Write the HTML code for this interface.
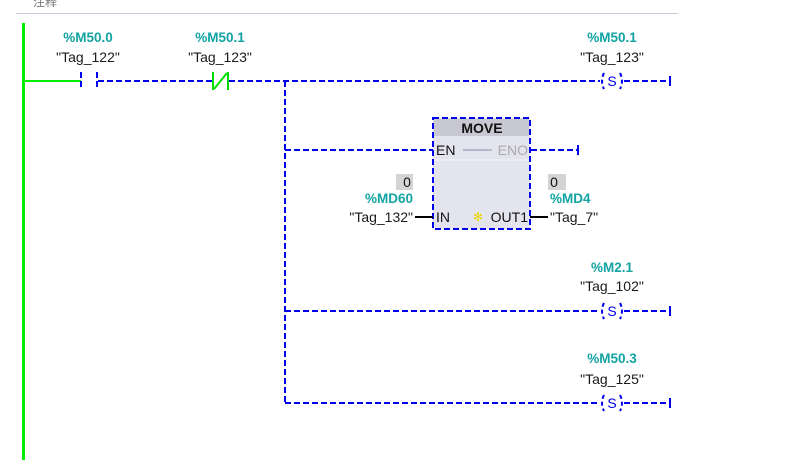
<!DOCTYPE html>
<html><head><meta charset="utf-8"><style>
html,body{margin:0;padding:0;background:#fff;width:798px;height:468px;overflow:hidden}
svg{display:block}
text{font-family:"Liberation Sans","Noto Sans CJK SC",sans-serif;font-size:14px}
.t{fill:#1a1a1a;text-anchor:middle}
.a{fill:#13a3a3;font-weight:bold;text-anchor:middle;font-size:13.5px}
.d{stroke:#0000ee;stroke-width:2;stroke-dasharray:6,3;fill:none}
.p{stroke:#0000ee;stroke-width:2;fill:none;stroke-dasharray:4,3}
</style></head><body>
<svg width="798" height="468" viewBox="0 0 798 468">
<text x="33" y="6" style="font-size:12px;fill:#777">注释</text>
<line x1="16" y1="13.5" x2="678" y2="13.5" stroke="#c8ccdc" stroke-width="1"/>
<rect x="22" y="23" width="3" height="437" fill="#00ee00"/>
<line x1="24" y1="81" x2="81" y2="81" stroke="#00ee00" stroke-width="2"/>
<line x1="81" y1="72" x2="81" y2="90" class="d" stroke-dasharray="5,3"/>
<line x1="97" y1="72" x2="97" y2="90" class="d" stroke-dasharray="5,3"/>
<line x1="98" y1="81" x2="212" y2="81" class="d"/>
<g stroke="#00dd00" stroke-width="2" fill="none">
<line x1="213" y1="72" x2="213" y2="90"/><line x1="228" y1="72" x2="228" y2="90"/>
<line x1="214" y1="89" x2="227" y2="73"/></g>
<line x1="229" y1="81" x2="600" y2="81" class="d"/>
<line x1="285" y1="81" x2="285" y2="403" class="d"/>
<text x="88" y="42" class="a">%M50.0</text><text x="88" y="62" class="t">"Tag_122"</text>
<text x="220" y="42" class="a">%M50.1</text><text x="220" y="62" class="t">"Tag_123"</text>
<text x="612" y="42" class="a">%M50.1</text><text x="612" y="62" class="t">"Tag_123"</text>
<defs><g id="coil">
<path d="M604,73 Q600,81 604,89" class="p"/>
<path d="M620,73 Q624,81 620,89" class="p"/>
<text x="612" y="86" style="fill:#0000ee;text-anchor:middle;font-size:14px">S</text>
</g></defs>
<use href="#coil"/>
<use href="#coil" y="230"/>
<use href="#coil" y="322"/>
<line x1="624" y1="81" x2="670" y2="81" class="d"/><line x1="670" y1="76" x2="670" y2="86" stroke="#0000ee" stroke-width="2"/>
<text x="612" y="272" class="a">%M2.1</text><text x="612" y="291" class="t">"Tag_102"</text>
<line x1="285" y1="311" x2="600" y2="311" class="d"/>
<line x1="624" y1="311" x2="670" y2="311" class="d"/><line x1="670" y1="306" x2="670" y2="316" stroke="#0000ee" stroke-width="2"/>
<text x="612" y="363" class="a">%M50.3</text><text x="612" y="384" class="t">"Tag_125"</text>
<line x1="285" y1="403" x2="600" y2="403" class="d"/>
<line x1="624" y1="403" x2="670" y2="403" class="d"/><line x1="670" y1="398" x2="670" y2="408" stroke="#0000ee" stroke-width="2"/>
<line x1="285" y1="150" x2="433" y2="150" class="d"/>
<rect x="433" y="118" width="97" height="111" fill="#e4e4ee"/>
<rect x="434" y="119" width="95" height="17" fill="#c8c8d2"/>
<line x1="434" y1="160" x2="529" y2="160" stroke="#f4f4f8" stroke-width="1"/>
<rect x="433" y="118" width="97" height="111" class="d" stroke-dasharray="5,3"/>
<text x="482" y="133" style="font-weight:bold;text-anchor:middle;fill:#111">MOVE</text>
<text x="436" y="155" style="fill:#111">EN</text>
<line x1="463" y1="150" x2="492" y2="150" stroke="#8888aa" stroke-width="1"/>
<text x="528" y="155" style="fill:#aaa;text-anchor:end">ENO</text>
<line x1="531" y1="150" x2="578" y2="150" class="d"/><line x1="578" y1="145" x2="578" y2="155" stroke="#0000ee" stroke-width="2"/>
<text x="436" y="222" style="fill:#111">IN</text>
<text x="478" y="221" style="fill:#e8d800;text-anchor:middle;font-size:12px">✻</text>
<text x="528" y="222" style="fill:#111;text-anchor:end">OUT1</text>
<line x1="415" y1="217" x2="433" y2="217" stroke="#000" stroke-width="2"/>
<line x1="530" y1="217" x2="548" y2="217" stroke="#000" stroke-width="2"/>
<rect x="396" y="174" width="17" height="16" fill="#d4d4d4"/><text x="407" y="187" style="fill:#111;text-anchor:middle">0</text>
<rect x="548" y="174" width="18" height="16" fill="#d4d4d4"/><text x="554" y="187" style="fill:#111;text-anchor:middle">0</text>
<text x="413" y="203" class="a" style="text-anchor:end">%MD60</text>
<text x="413" y="222" class="t" style="text-anchor:end">"Tag_132"</text>
<text x="550" y="203" class="a" style="text-anchor:start">%MD4</text>
<text x="550" y="222" class="t" style="text-anchor:start">"Tag_7"</text>
</svg>
</body></html>
